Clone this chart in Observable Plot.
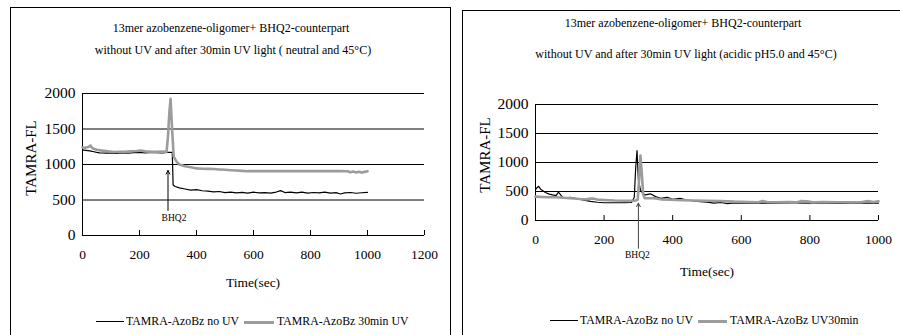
<!DOCTYPE html>
<html><head><meta charset="utf-8">
<script src="https://cdn.jsdelivr.net/npm/d3@7"></script>
<script src="https://cdn.jsdelivr.net/npm/@observablehq/plot@0.6"></script>
<style>
body{margin:0;background:#fff;}
#root{position:relative;width:900px;height:335px;overflow:hidden;font-family:"Liberation Serif","Times New Roman",serif;color:#000;background:#fff;}
.box{position:absolute;border:1px solid #000;box-sizing:border-box;}
.t{position:absolute;white-space:nowrap;transform:translate(-50%,-50%);line-height:1;}
.l{position:absolute;white-space:nowrap;transform:translate(0,-50%);line-height:1;font-size:11.8px;}
.sw{position:absolute;height:0;}
.plot{position:absolute;}
</style>
</head><body>
<div id="root">
  <div class="box" style="left:10px;top:7px;width:441px;height:340px;"></div>
  <div class="box" style="left:462px;top:10px;width:440px;height:340px;"></div>

  <div class="t" style="left:231px;top:28px;font-size:12px;">13mer azobenzene-oligomer+ BHQ2-counterpart</div>
  <div class="t" style="left:233px;top:50px;font-size:12px;">without UV and after 30min UV light ( neutral and 45°C)</div>
  <div class="t" style="left:683px;top:23px;font-size:12px;">13mer azobenzene-oligomer+ BHQ2-counterpart</div>
  <div class="t" style="left:686px;top:54px;font-size:12px;">without UV and after 30min UV light (acidic pH5.0 and 45°C)</div>

  <div class="t" style="left:31px;top:158px;font-size:15px;transform:translate(-50%,-50%) rotate(-90deg);">TAMRA-FL</div>
  <div class="t" style="left:485px;top:155px;font-size:15px;transform:translate(-50%,-50%) rotate(-90deg);">TAMRA-FL</div>

  <div class="t" style="left:253px;top:283px;font-size:13.5px;">Time(sec)</div>
  <div class="t" style="left:707px;top:272px;font-size:13.5px;">Time(sec)</div>

  <div class="sw" style="left:96px;top:321px;width:28px;border-top:1.5px solid #000;"></div>
  <div class="l" style="left:126px;top:322px;">TAMRA-AzoBz no UV</div>
  <div class="sw" style="left:244px;top:320.5px;width:30px;border-top:3px solid #9c9c9c;"></div>
  <div class="l" style="left:277px;top:322px;">TAMRA-AzoBz 30min UV</div>

  <div class="sw" style="left:550px;top:320px;width:28px;border-top:1.5px solid #000;"></div>
  <div class="l" style="left:580px;top:321px;">TAMRA-AzoBz no UV</div>
  <div class="sw" style="left:698px;top:319.5px;width:29px;border-top:3px solid #9c9c9c;"></div>
  <div class="l" style="left:730px;top:321px;">TAMRA-AzoBz UV30min</div>

  <div id="p1" class="plot" style="left:11px;top:8px;"></div>
  <div id="p2" class="plot" style="left:464px;top:12px;"></div>
</div>
<script>
// ---------- Axis ticks ----------
const yTicks = [0, 500, 1000, 1500, 2000];
const xTicksLeft = [0, 200, 400, 600, 800, 1000, 1200];
const xTicksRight = [0, 200, 400, 600, 800, 1000];

// ---------- Data: neutral pH panel ----------
const neutralNoUV_t = [0,10,20,30,40,50,60,70,80,90,100,120,140,160,180,200,220,240,260,280,300,310,315,318,325,340,360,380,400,420,440,460,480,500,520,540,560,580,600,620,640,660,680,695,710,730,750,770,790,810,830,850,870,890,905,920,940,960,980,1000];
const neutralNoUV_v = [1205,1200,1195,1188,1180,1172,1165,1162,1160,1165,1160,1155,1165,1160,1168,1170,1165,1172,1168,1165,1170,1172,1170,710,690,670,655,640,645,630,625,615,620,605,612,600,608,598,610,600,605,598,612,632,605,610,600,612,598,606,600,610,598,604,585,600,606,595,602,608];

const neutralUV_t = [0,10,20,28,35,50,70,90,110,130,150,170,190,204,220,240,260,280,295,300,305,309,313,320,330,340,360,380,400,420,440,460,480,500,520,540,560,580,620,660,700,740,780,820,860,900,930,940,950,960,970,980,990,1000];
const neutralUV_v = [1240,1235,1245,1268,1230,1208,1195,1185,1175,1180,1178,1185,1190,1197,1185,1180,1178,1182,1180,1400,1750,1925,1600,1110,1040,1000,975,960,945,940,938,936,930,925,920,915,910,906,906,906,906,906,906,906,906,906,904,890,900,888,898,886,896,905];

// ---------- Data: acidic pH panel ----------
const acidicNoUV_t = [0,5,9,15,29,40,50,60,67,75,82,101,130,160,180,200,230,260,280,288,292,296,300,306,312,320,335,350,365,384,400,422,440,460,480,500,520,540,560,580,600,650,700,750,800,850,900,950,1000];
const acidicNoUV_v = [530,570,590,540,482,455,441,430,488,430,383,400,365,330,315,306,306,306,310,400,900,1207,700,530,470,441,460,412,383,400,365,383,353,340,325,318,300,310,290,305,300,298,300,302,298,300,296,300,298];

const acidicUV_t = [0,20,40,60,80,101,130,150,160,170,180,200,230,260,290,298,302,306,310,314,318,330,345,365,390,410,430,460,500,540,580,620,650,662,675,700,740,760,773,790,810,840,880,920,950,968,985,1000];
const acidicUV_v = [412,405,400,400,392,383,370,365,380,377,360,353,345,341,340,360,700,1118,800,450,385,383,383,365,360,353,350,345,340,336,325,320,315,336,320,315,318,312,334,330,312,318,314,312,315,336,318,330];

// BHQ2 addition annotation (time, arrow bottom, arrow top, label time, label value)
const neutralArrow = {t: 300, from: 352, to: 915, labelT: 321, labelV: 250};
const acidicArrow = {t: 300, from: -480, to: 300, labelT: 297, labelV: -590};

const GREY = "#9c9c9c";

function rows(ts, vs) { return ts.map((t, i) => ({t, v: vs[i]})); }

function panel(opt) {
  const a = opt.arrow;
  return Plot.plot({
    width: opt.width, height: opt.height,
    marginLeft: opt.ml, marginRight: opt.mr, marginTop: opt.mt, marginBottom: opt.mb,
    x: {domain: [0, opt.xMax], label: null},
    y: {domain: [0, 2000], label: null},
    style: {fontFamily: "'Liberation Serif', 'Times New Roman', serif", background: "transparent", color: "#000", overflow: "visible"},
    marks: [
      Plot.gridY(yTicks, {stroke: "#000", strokeOpacity: 1, strokeWidth: 1}),
      Plot.ruleX([0], {stroke: "#000", strokeWidth: 1}),
      Plot.ruleY([0], {stroke: "#000", strokeWidth: 1}),
      Plot.axisY(yTicks, {tickSize: 0, tickPadding: 7, fontSize: 15.5, label: null, tickFormat: d => String(d)}),
      Plot.axisX(opt.xTicks, {tickSize: -5, tickPadding: 19, fontSize: 13.5, label: null, tickFormat: d => String(d)}),
      Plot.line(rows(opt.bt, opt.bv), {x: "t", y: "v", stroke: "#000", strokeWidth: 1.2}),
      Plot.line(rows(opt.gt, opt.gv), {x: "t", y: "v", stroke: GREY, strokeWidth: 2.6}),
      Plot.arrow([a], {x1: "t", x2: "t", y1: "from", y2: "to", stroke: opt.arrowColor, strokeWidth: 1, headLength: 6, headAngle: 55}),
      Plot.text([a], {x: "labelT", y: "labelV", text: () => "BHQ2", fontSize: 9.5, fill: "#000"})
    ]
  });
}

document.getElementById("p1").append(panel({
  width: 440, height: 300, ml: 71, mr: 27, mt: 85, mb: 73, xMax: 1200, xTicks: xTicksLeft,
  bt: neutralNoUV_t, bv: neutralNoUV_v, gt: neutralUV_t, gv: neutralUV_v, arrow: neutralArrow, arrowColor: "#000"
}));
document.getElementById("p2").append(panel({
  width: 434, height: 290, ml: 71, mr: 20, mt: 92, mb: 82, xMax: 1000, xTicks: xTicksRight,
  bt: acidicNoUV_t, bv: acidicNoUV_v, gt: acidicUV_t, gv: acidicUV_v, arrow: acidicArrow, arrowColor: "#444"
}));
</script>
</body></html>
